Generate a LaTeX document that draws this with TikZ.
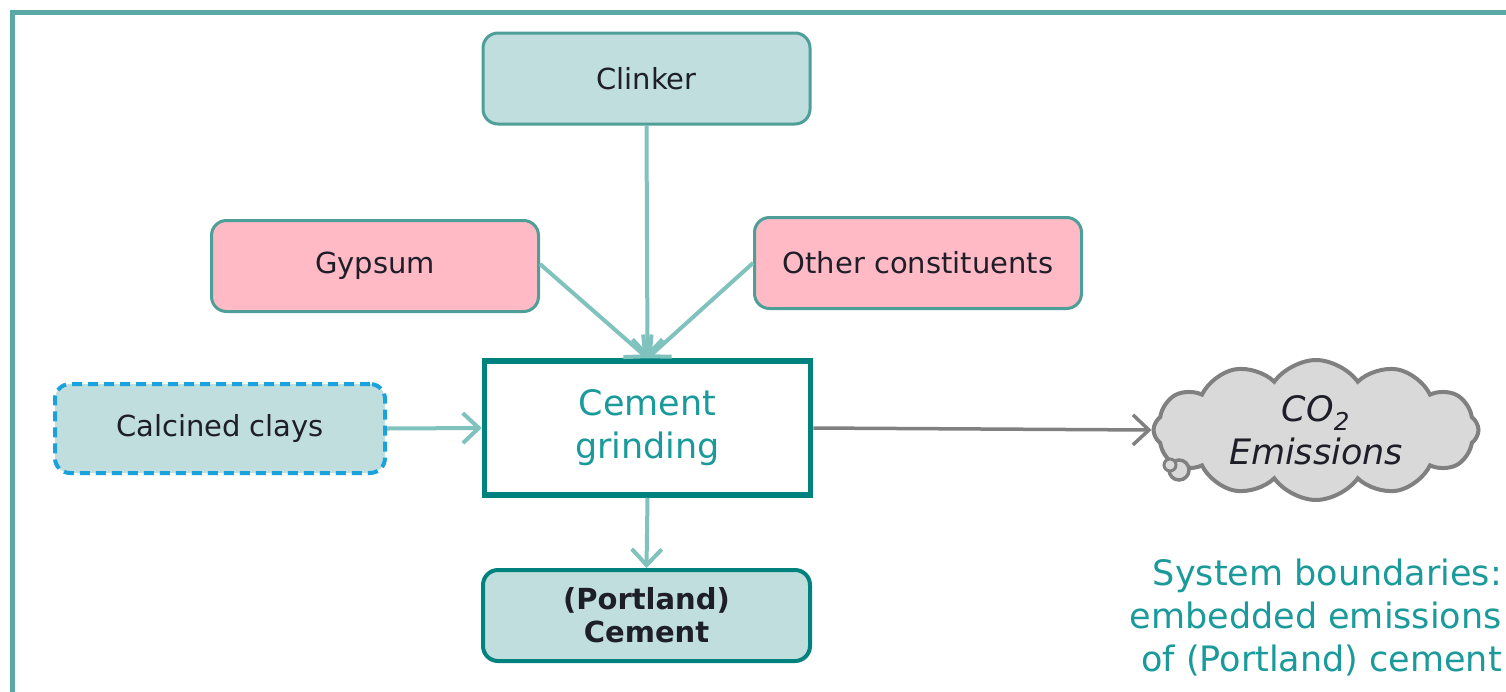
\documentclass[tikz,border=0pt]{standalone}
\usepackage{fontspec}
\setmainfont{DejaVu Sans}
\usetikzlibrary{arrows.meta,shapes.symbols}
\definecolor{lteal}{HTML}{BFDEDD}
\definecolor{bteal}{HTML}{4E9E9A}
\definecolor{pinkf}{HTML}{FFBAC5}
\definecolor{ateal}{HTML}{80C2BE}
\definecolor{dteal}{HTML}{00827E}
\definecolor{dblue}{HTML}{1AA2DC}
\definecolor{cfill}{HTML}{D9D9D9}
\definecolor{cgray}{HTML}{808080}
\definecolor{frame}{HTML}{5BA9A6}
\definecolor{tteal}{HTML}{1A9A9A}
\definecolor{txt}{HTML}{1E1E28}
\begin{document}
\begin{tikzpicture}[x=1pt,y=-1pt,
  inbox/.style={draw=bteal,line width=3pt,rounded corners=15pt,fill=lteal,
    minimum width=327pt,minimum height=91pt,inner sep=0pt,text=txt,
    font=\fontsize{29}{34}\selectfont},
  pinkbox/.style={inbox,fill=pinkf},
  flow/.style={draw=ateal,line width=4pt,-{Straight Barb[length=16pt,width=30pt,line width=4pt]}},
  grayflow/.style={draw=cgray,line width=3.5pt,-{Straight Barb[length=16pt,width=30pt,line width=3.5pt]}}]
\useasboundingbox (0,0) rectangle (1506,691);
\fill[white] (0,0) rectangle (1506,691);
\draw[frame,line width=5pt] (12,720) -- (12,12) -- (1530,12);
% nodes
\node[inbox] (clinker) at (646.5,78.5) {Clinker};
\node[pinkbox] (gypsum) at (375,266) {Gypsum};
\node[pinkbox] (other) at (918,263) {Other constituents};
\node[inbox,draw=dblue,line width=4pt,dash pattern=on 10pt off 6pt,minimum width=330pt,minimum height=89pt] (clays) at (220,428.5) {Calcined clays};
\node[draw=dteal,line width=5.5pt,fill=white,minimum width=326pt,minimum height=134pt,inner sep=0pt,
  text=tteal,align=center,font=\fontsize{35}{43}\selectfont] (grind) at (647.5,428) {Cement\\grinding};
\node[inbox,draw=dteal,line width=4pt,align=center,font=\fontsize{29}{33}\selectfont\bfseries] (port) at (646.5,615.5) {(Portland)\\Cement};
\node[cloud,cloud puffs=12,cloud puff arc=110,cloud ignores aspect,draw=cgray,line width=4pt,fill=cfill,
  minimum width=325pt,minimum height=140pt,inner sep=0pt,align=center,text=txt,
  font=\fontsize{35}{43}\selectfont\itshape] (cloud) at (1316,430) {CO\textsubscript{2}\\Emissions};
\draw[cgray,line width=3.5pt,fill=cfill] (1179,470) circle (10pt);
\draw[cgray,line width=3pt,fill=cfill] (1170,465) circle (6pt);
\node[anchor=north east,align=right,text=tteal,inner sep=0pt,font=\fontsize{35}{43}\selectfont] (sysb) at (1502,559) {System boundaries:\\embedded emissions\\of (Portland) cement};
% connectors
\draw[flow] (clinker.south) -- (grind.north);
\draw[flow] (gypsum.east |- 0,264) -- (grind.north);
\draw[flow] (other.west) -- (grind.north);
\draw[flow] (clays.east) -- (grind.west);
\draw[flow] (grind.south) -- (port.north);
\draw[grayflow] (grind.east) -- (cloud.west);
\end{tikzpicture}
\end{document}
